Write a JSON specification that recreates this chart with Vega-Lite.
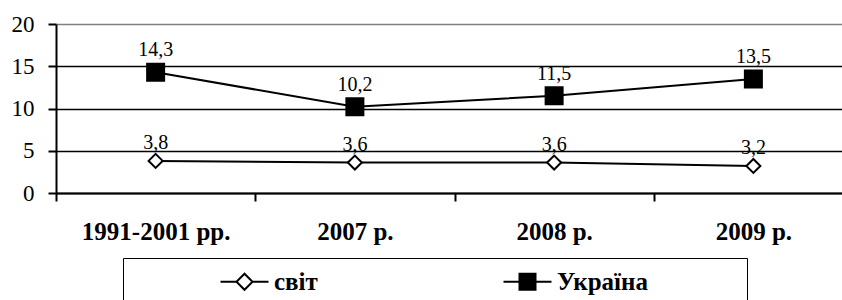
{
  "$schema": "https://vega.github.io/schema/vega-lite/v6.json",
  "width": 797,
  "height": 169,
  "padding": {"left": 56, "top": 24, "right": 0, "bottom": 107},
  "autosize": {"type": "none"},
  "background": "white",
  "config": {
    "view": {"stroke": null},
    "font": "Liberation Serif",
    "locale": {"number": {"decimal": ",", "thousands": " ", "grouping": [3], "currency": ["", ""]}},
    "legend": {"labelFont": "Liberation Serif", "labelFontSize": 25, "labelFontWeight": "bold", "labelColor": "black", "titleFont": "Liberation Serif"}
  },
  "data": {
    "values": [
      {"period": "1991-2001 рр.", "series": "світ", "value": 3.8},
      {"period": "2007 р.", "series": "світ", "value": 3.6},
      {"period": "2008 р.", "series": "світ", "value": 3.6},
      {"period": "2009 р.", "series": "світ", "value": 3.2},
      {"period": "1991-2001 рр.", "series": "Україна", "value": 14.3},
      {"period": "2007 р.", "series": "Україна", "value": 10.2},
      {"period": "2008 р.", "series": "Україна", "value": 11.5},
      {"period": "2009 р.", "series": "Україна", "value": 13.5}
    ]
  },
  "encoding": {
    "x": {
      "field": "period",
      "type": "nominal",
      "sort": ["1991-2001 рр.", "2007 р.", "2008 р.", "2009 р."],
      "scale": {"paddingInner": 0, "paddingOuter": 0},
      "axis": {
        "title": null,
        "labelAngle": 0,
        "tickBand": "extent",
        "ticks": true,
        "grid": false,
        "domainColor": "black",
        "domainWidth": 2,
        "tickColor": "black",
        "tickWidth": 2,
        "tickSize": 8,
        "labelFont": "Liberation Serif",
        "labelFontSize": 25,
        "labelFontWeight": "bold",
        "labelColor": "black",
        "labelPadding": 18,
        "labelLimit": 0
      }
    },
    "y": {
      "field": "value",
      "type": "quantitative",
      "scale": {"domain": [0, 20], "nice": false, "zero": true},
      "axis": {
        "title": null,
        "values": [0, 5, 10, 15, 20],
        "grid": true,
        "gridColor": {"condition": {"test": "datum.value === 20", "value": "#808080"}, "value": "black"},
        "gridWidth": 1.7,
        "domainColor": "black",
        "domainWidth": 2,
        "tickColor": "black",
        "tickWidth": 2,
        "tickSize": 8,
        "labelFont": "Liberation Serif",
        "labelFontSize": 23,
        "labelColor": "black",
        "labelPadding": 14
      }
    }
  },
  "layer": [
    {
      "mark": {"type": "line", "color": "black", "strokeWidth": 2},
      "encoding": {"detail": {"field": "series", "type": "nominal"}}
    },
    {
      "mark": {"type": "point", "filled": true, "stroke": "black", "strokeWidth": 2, "opacity": 1},
      "encoding": {
        "shape": {
          "field": "series", "type": "nominal",
          "scale": {"domain": ["світ", "Україна"], "range": ["diamond", "square"]},
          "legend": null
        },
        "fill": {
          "field": "series", "type": "nominal",
          "scale": {"domain": ["світ", "Україна"], "range": ["white", "black"]},
          "legend": null
        },
        "size": {
          "field": "series", "type": "nominal",
          "scale": {"domain": ["світ", "Україна"], "range": [196, 289]},
          "legend": null
        }
      }
    },
    {
      "mark": {"type": "point", "filled": true, "strokeWidth": 2, "opacity": 0, "size": 256},
      "encoding": {
        "shape": {
          "field": "series", "type": "nominal",
          "scale": {"domain": ["світ", "Україна"], "range": ["M-3,0H-1M1,0H3M-1,0L0,-1L1,0L0,1Z", "M-3,0H-1M1,0H3M-1,-1H1V1H-1Z"]},
          "legend": {
            "orient": "none", "legendX": 67, "legendY": 234, "direction": "horizontal", "columns": 2,
            "title": "\u00a0", "titleOrient": "right", "titlePadding": 88, "titleFontSize": 10,
            "strokeColor": "black", "fillColor": "white", "padding": 11,
            "symbolSize": 256, "symbolOpacity": 1, "symbolStrokeWidth": 2,
            "symbolOffset": 98, "labelOffset": 17, "columnPadding": 99,
            "labelFont": "Liberation Serif", "labelFontSize": 25, "labelFontWeight": "bold", "labelColor": "black", "labelLimit": 0
          }
        },
        "fill": {
          "field": "series", "type": "nominal",
          "scale": {"domain": ["світ", "Україна"], "range": ["white", "black"]},
          "legend": {
            "orient": "none", "legendX": 67, "legendY": 234, "direction": "horizontal", "columns": 2,
            "title": "\u00a0", "titleOrient": "right", "titlePadding": 88, "titleFontSize": 10,
            "strokeColor": "black", "fillColor": "white", "padding": 11,
            "symbolSize": 256, "symbolOpacity": 1, "symbolStrokeWidth": 2,
            "symbolOffset": 98, "labelOffset": 17, "columnPadding": 99,
            "labelFont": "Liberation Serif", "labelFontSize": 25, "labelFontWeight": "bold", "labelColor": "black", "labelLimit": 0
          }
        },
        "stroke": {
          "field": "series", "type": "nominal",
          "scale": {"domain": ["світ", "Україна"], "range": ["black", "black"]},
          "legend": {
            "orient": "none", "legendX": 67, "legendY": 234, "direction": "horizontal", "columns": 2,
            "title": "\u00a0", "titleOrient": "right", "titlePadding": 88, "titleFontSize": 10,
            "strokeColor": "black", "fillColor": "white", "padding": 11,
            "symbolSize": 256, "symbolOpacity": 1, "symbolStrokeWidth": 2,
            "symbolOffset": 98, "labelOffset": 17, "columnPadding": 99,
            "labelFont": "Liberation Serif", "labelFontSize": 25, "labelFontWeight": "bold", "labelColor": "black", "labelLimit": 0
          }
        }
      }
    },
    {
      "transform": [{"filter": "datum.series === 'Україна'"}],
      "mark": {"type": "text", "baseline": "alphabetic", "dy": -16, "fontSize": 20, "font": "Liberation Serif", "color": "black"},
      "encoding": {"text": {"field": "value", "type": "quantitative", "format": ".1f"}}
    },
    {
      "transform": [{"filter": "datum.series === 'світ'"}],
      "mark": {"type": "text", "baseline": "alphabetic", "dy": -12, "fontSize": 20, "font": "Liberation Serif", "color": "black"},
      "encoding": {"text": {"field": "value", "type": "quantitative", "format": ".1f"}}
    }
  ],
  "resolve": {
    "scale": {"shape": "independent", "fill": "independent", "size": "independent", "stroke": "independent"},
    "legend": {"shape": "independent", "fill": "independent", "size": "independent", "stroke": "independent"}
  }
}
